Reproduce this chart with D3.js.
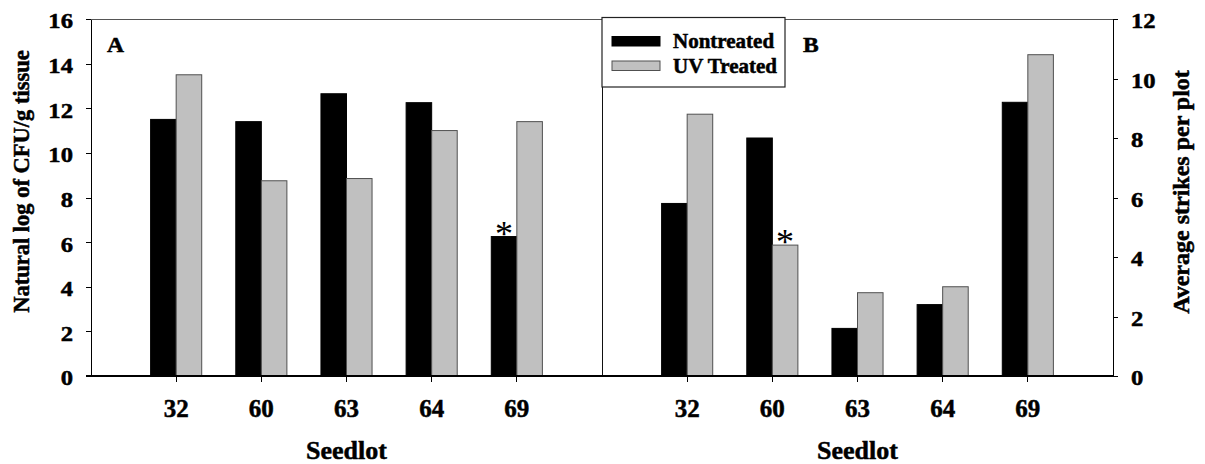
<!DOCTYPE html>
<html>
<head>
<meta charset="utf-8">
<script src="https://cdn.jsdelivr.net/npm/d3@7"></script>
<style>
body { margin: 0; background: white; }
text { font-family: "Liberation Serif", "Times New Roman", serif; font-weight: bold; fill: black;
       stroke: black; stroke-width: 0.5px; }
text.star { font-weight: normal; stroke: none; }
.axis path, .axis line { stroke: black; shape-rendering: crispEdges; }
</style>
</head>
<body>
<script>
// seedlots, same for both panels
const seedlots = ["32", "60", "63", "64", "69"];
const series = ["Nontreated", "UV Treated"];

// panel A: natural log of CFU/g tissue
const cfuNontreated = [11.5, 11.4, 12.65, 12.25, 6.25];
const cfuTreated    = [13.5, 8.75, 8.85, 11.0, 11.4];

// panel B: average strikes per plot
const strikesNontreated = [5.8, 8.0, 1.6, 2.4, 9.2];
const strikesTreated    = [8.8, 4.4, 2.8, 3.0, 10.8];

const leftTicks = [0, 2, 4, 6, 8, 10, 12, 14, 16];
const rightTicks = [0, 2, 4, 6, 8, 10, 12];

// significance marks: [panel, seedlot index, series index]
const stars = [["A", 4, 0], ["B", 1, 1]];

const W = 1205, H = 464;
const x0 = 91, xMid = 602, x1 = 1113, yTop = 19, yBot = 376;
const fills = ["#000000", "#c0c0c0"];
const strokes = ["#000000", "#505050"];

const svg = d3.select("body").append("svg").attr("width", W).attr("height", H);

const step = (xMid - x0) / 6;
const xA = d3.scaleBand().domain(seedlots).range([x0 + step / 2, xMid - step / 2]);
const xB = d3.scaleBand().domain(seedlots).range([xMid + step / 2, x1 - step / 2]);
const yA = d3.scaleLinear().domain([0, 16]).range([yBot, yTop]);
const yB = d3.scaleLinear().domain([0, 12]).range([yBot, yTop]);
const barW = step * 0.3;

// frame lines
svg.append("line").attr("x1", x0).attr("x2", x1).attr("y1", yTop).attr("y2", yTop)
   .attr("stroke", "#555").attr("shape-rendering", "crispEdges");
svg.append("line").attr("x1", xMid).attr("x2", xMid).attr("y1", yTop).attr("y2", yBot)
   .attr("stroke", "#111").attr("shape-rendering", "crispEdges");

function drawPanel(x, y, vals, key) {
  const g = svg.append("g");
  vals.forEach((arr, s) => {
    g.selectAll(null).data(arr).enter().append("rect")
     .attr("x", (d, i) => x(seedlots[i]) + x.bandwidth() / 2 + (s === 0 ? -barW : 0))
     .attr("y", d => y(d))
     .attr("width", barW)
     .attr("height", d => y(0) - y(d))
     .attr("fill", fills[s])
     .attr("stroke", strokes[s])
     .attr("stroke-width", 1);
  });
  stars.filter(d => d[0] === key).forEach(d => {
    const v = vals[d[2]][d[1]];
    const cx = x(seedlots[d[1]]) + x.bandwidth() / 2 + (d[2] === 0 ? -barW / 2 : barW / 2);
    svg.append("text").attr("class", "star").attr("x", cx).attr("y", y(v) + 9)
       .attr("text-anchor", "middle")
       .style("font-size", "36px").text("*");
  });

  const xAxis = d3.axisBottom(x).tickSize(6).tickSizeOuter(0);
  const ga = svg.append("g").attr("class", "axis")
    .attr("transform", `translate(0,${yBot})`).call(xAxis);
  ga.select(".domain").remove();
  ga.selectAll(".tick line").attr("stroke", "#555");
  ga.selectAll(".tick text").attr("y", 41).attr("dy", 0).style("font-size", "25px");
}

drawPanel(xA, yA, [cfuNontreated, cfuTreated], "A");
drawPanel(xB, yB, [strikesNontreated, strikesTreated], "B");

// bottom baseline
svg.append("line").attr("x1", x0 - 5).attr("x2", x1).attr("y1", yBot).attr("y2", yBot)
   .attr("stroke", "black").attr("stroke-width", 1.5).attr("shape-rendering", "crispEdges");

// y axes
const gl = svg.append("g").attr("class", "axis").attr("transform", `translate(${x0},0)`)
  .call(d3.axisLeft(yA).tickValues(leftTicks).tickSize(5).tickSizeOuter(0));
gl.selectAll(".tick text")
  .attr("x", 0).attr("dy", "0.36em")
  .attr("transform", "translate(-18,1) scale(1.12,1)")
  .style("font-size", "22px");

const gr = svg.append("g").attr("class", "axis").attr("transform", `translate(${x1},0)`)
  .call(d3.axisRight(yB).tickValues(rightTicks).tickSize(5).tickSizeOuter(0));
gr.select(".domain").attr("stroke", "#555");
gr.selectAll(".tick line").attr("stroke", "#555");
gr.selectAll(".tick text")
  .attr("x", 0).attr("dy", "0.36em")
  .attr("transform", "translate(18,1) scale(1.12,1)")
  .style("font-size", "22px");

// axis titles
svg.append("text").attr("transform", `translate(29,${(50 + 313) / 2}) rotate(-90)`)
   .attr("text-anchor", "middle").style("font-size", "22.5px")
   .text("Natural log of CFU/g tissue");
svg.append("text").attr("transform", `translate(1189,${(66 + 318) / 2}) rotate(-90)`)
   .attr("text-anchor", "middle").style("font-size", "24px")
   .text("Average strikes per plot");
[xA, xB].forEach(x => {
  svg.append("text").attr("x", x("63") + x.bandwidth() / 2).attr("y", 459)
     .attr("text-anchor", "middle").style("font-size", "26px").text("Seedlot");
});

// panel letters
svg.append("text").attr("transform", "translate(107,52) scale(1.07,1)").style("font-size", "22px").text("A");
svg.append("text").attr("transform", "translate(803,52) scale(1.07,1)").style("font-size", "22px").text("B");

// legend
const lg = svg.append("g").attr("transform", "translate(602,17.5)");
lg.append("rect").attr("width", 183).attr("height", 69.5)
  .attr("fill", "white").attr("stroke", "#222").attr("stroke-width", 1.2);
series.forEach((s, i) => {
  lg.append("rect").attr("x", 10).attr("y", 19 + i * 24.5).attr("width", 48).attr("height", 9.5)
    .attr("fill", fills[i]).attr("stroke", strokes[i]);
  lg.append("text").attr("transform", `translate(71,${30 + i * 25.5}) scale(1.05,1)`)
    .style("font-size", "20px").text(s);
});
</script>
</body>
</html>
